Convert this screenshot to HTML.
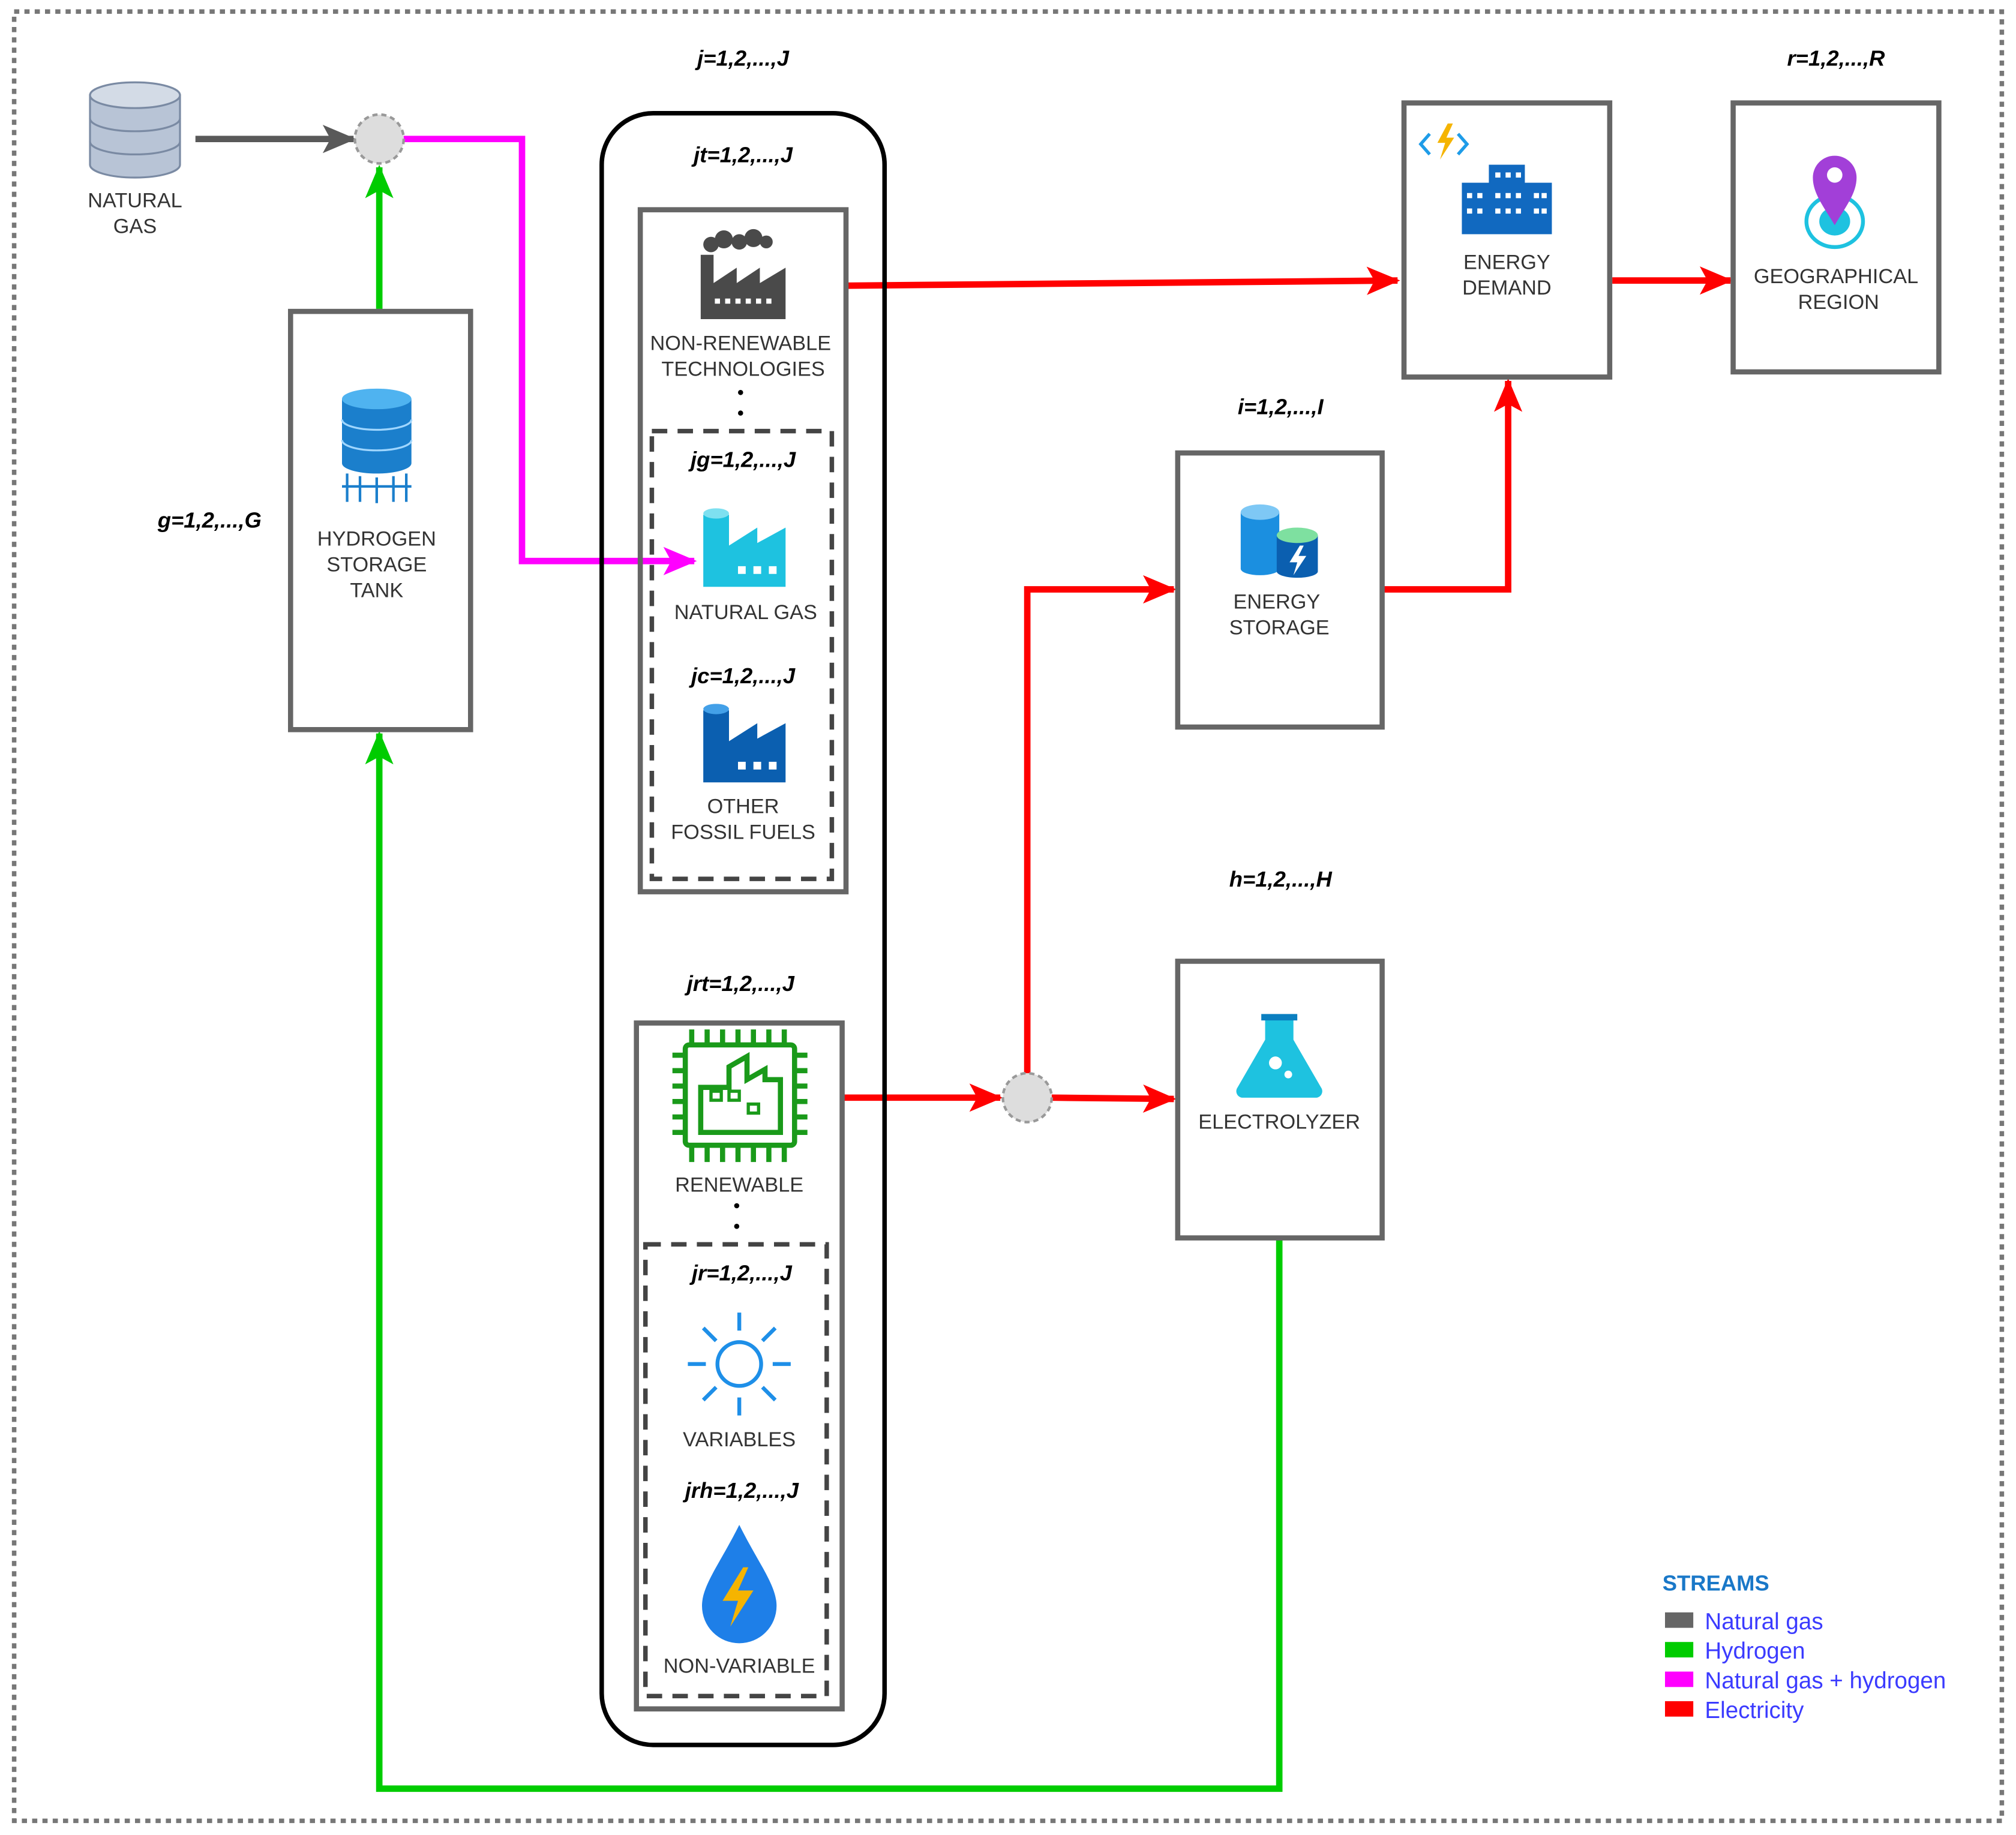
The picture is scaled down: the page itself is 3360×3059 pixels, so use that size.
<!DOCTYPE html>
<html><head><meta charset="utf-8"><style>
html,body{margin:0;padding:0;background:#fff;}
svg{display:block;}
text{font-family:"Liberation Sans",sans-serif;}
.lb{font-size:16px;fill:#333;text-anchor:middle;}
.ix{font-size:17px;font-weight:bold;font-style:italic;fill:#000;text-anchor:middle;}
.lg{font-size:18px;fill:#3b3bff;}
</style></head><body>
<svg width="3360" height="3059" viewBox="0 0 1568 1426" preserveAspectRatio="none" xmlns="http://www.w3.org/2000/svg">
<defs>
<marker id="ar" markerWidth="26" markerHeight="26" refX="24" refY="13" orient="auto" markerUnits="userSpaceOnUse"><path d="M0,2 L26,13 L0,24 L6,13z" fill="#f00"/></marker>
<marker id="agr" markerWidth="26" markerHeight="26" refX="24" refY="13" orient="auto" markerUnits="userSpaceOnUse"><path d="M0,2 L26,13 L0,24 L6,13z" fill="#00cc00"/></marker>
<marker id="am" markerWidth="26" markerHeight="26" refX="24" refY="13" orient="auto" markerUnits="userSpaceOnUse"><path d="M0,2 L26,13 L0,24 L6,13z" fill="#ff00ff"/></marker>
<marker id="agy" markerWidth="26" markerHeight="26" refX="24" refY="13" orient="auto" markerUnits="userSpaceOnUse"><path d="M0,2 L26,13 L0,24 L6,13z" fill="#595959"/></marker>
</defs>
<rect x="11" y="9" width="1546" height="1406" fill="none" stroke="#777" stroke-width="3.5" stroke-dasharray="4,4"/>

<g fill="#b8c4d6" stroke="#7a8aa3" stroke-width="1.5">
<path d="M70,74 v54 a35,10 0 0 0 70,0 v-54z"/>
<ellipse cx="105" cy="74" rx="35" ry="10" fill="#d3dbe6"/>
<path d="M70,92 a35,10 0 0 0 70,0 M70,110 a35,10 0 0 0 70,0" fill="none"/>
</g>
<text class="lb" x="105" y="161">NATURAL</text><text class="lb" x="105" y="181">GAS</text>

<line x1="152" y1="108" x2="275" y2="108" stroke="#595959" stroke-width="5" marker-end="url(#agy)"/>
<polyline points="314,108 406,108 406,436 540,436" fill="none" stroke="#ff00ff" stroke-width="5" marker-end="url(#am)"/>
<line x1="295" y1="240" x2="295" y2="130" stroke="#00cc00" stroke-width="5" marker-end="url(#agr)"/>
<polyline points="995,962 995,1390 295,1390 295,570" fill="none" stroke="#00cc00" stroke-width="5" marker-end="url(#agr)"/>
<line x1="658" y1="222" x2="1087" y2="218" stroke="#f00" stroke-width="5" marker-end="url(#ar)"/>
<line x1="1254" y1="218" x2="1346" y2="218" stroke="#f00" stroke-width="5" marker-end="url(#ar)"/>
<polyline points="1075,458 1173,458 1173,296" fill="none" stroke="#f00" stroke-width="5" marker-end="url(#ar)"/>
<line x1="656" y1="853" x2="778" y2="853" stroke="#f00" stroke-width="5" marker-end="url(#ar)"/>
<line x1="818" y1="853" x2="913" y2="854" stroke="#f00" stroke-width="5" marker-end="url(#ar)"/>
<polyline points="799,834 799,458 913,458" fill="none" stroke="#f00" stroke-width="5" marker-end="url(#ar)"/>

<circle cx="295" cy="108" r="19" fill="#ddd" stroke="#999" stroke-width="2" stroke-dasharray="4,3"/>
<circle cx="799" cy="853" r="19" fill="#ddd" stroke="#999" stroke-width="2" stroke-dasharray="4,3"/>

<rect x="226" y="242" width="140" height="325" fill="#fff" stroke="#666" stroke-width="4"/>
<g>
<path d="M266,310 v50 a27,8 0 0 0 54,0 v-50z" fill="#1b7fcc"/>
<ellipse cx="293" cy="310" rx="27" ry="8" fill="#4fb3f0"/>
<path d="M266,326 a27,8 0 0 0 54,0 M266,342 a27,8 0 0 0 54,0" fill="none" stroke="#9fd6ff" stroke-width="1.5"/>
<path d="M270,368 v22 M280,370 v20 M293,371 v20 M306,370 v20 M316,368 v22 M266,378 h54" stroke="#1b7fcc" stroke-width="2"/>
</g>
<text class="lb" x="293" y="424">HYDROGEN</text><text class="lb" x="293" y="444">STORAGE</text><text class="lb" x="293" y="464">TANK</text>
<text class="ix" x="163" y="410">g=1,2,...,G</text>

<rect x="468" y="88" width="220" height="1268" rx="40" fill="none" stroke="#000" stroke-width="3.5"/>
<text class="ix" x="578" y="51">j=1,2,...,J</text>
<text class="ix" x="578" y="126">jt=1,2,...,J</text>

<rect x="498" y="163" width="160" height="530" fill="none" stroke="#666" stroke-width="4"/>
<g fill="#4a4a4a">
<path d="M545,248 v-50 h10 v22 l18,-12 v12 l18,-12 v12 l20,-12 v40z"/>
<circle cx="553" cy="190" r="6"/><circle cx="563" cy="186" r="7"/><circle cx="575" cy="188" r="6"/><circle cx="586" cy="185" r="7"/><circle cx="596" cy="188" r="5"/>
</g>
<g fill="#fff"><rect x="556" y="232" width="4" height="4"/><rect x="564" y="232" width="4" height="4"/><rect x="572" y="232" width="4" height="4"/><rect x="580" y="232" width="4" height="4"/><rect x="588" y="232" width="4" height="4"/><rect x="596" y="232" width="4" height="4"/></g>
<text class="lb" x="576" y="272">NON-RENEWABLE</text><text class="lb" x="578" y="292">TECHNOLOGIES</text>
<circle cx="576" cy="305" r="2" fill="#000"/><circle cx="576" cy="321" r="2" fill="#000"/>

<rect x="507" y="335" width="140" height="348" fill="none" stroke="#444" stroke-width="3.5" stroke-dasharray="12,8"/>
<text class="ix" x="578" y="363">jg=1,2,...,J</text>
<g fill="#1ec2e0"><path d="M547,400 h20 v24 l22,-14 v12 l22,-12 v46 h-64z"/><ellipse cx="557" cy="399" rx="10" ry="4" fill="#7ee0f0"/></g>
<g fill="#fff"><rect x="574" y="440" width="6" height="6"/><rect x="586" y="440" width="6" height="6"/><rect x="598" y="440" width="6" height="6"/></g>
<text class="lb" x="580" y="481">NATURAL GAS</text>
<text class="ix" x="578" y="531">jc=1,2,...,J</text>
<g fill="#0b5fb0"><path d="M547,552 h20 v24 l22,-14 v12 l22,-12 v46 h-64z"/><ellipse cx="557" cy="551" rx="10" ry="4" fill="#43a0e8"/></g>
<g fill="#fff"><rect x="574" y="592" width="6" height="6"/><rect x="586" y="592" width="6" height="6"/><rect x="598" y="592" width="6" height="6"/></g>
<text class="lb" x="578" y="632">OTHER</text><text class="lb" x="578" y="652">FOSSIL FUELS</text>

<text class="ix" x="576" y="770">jrt=1,2,...,J</text>
<rect x="495" y="795" width="160" height="533" fill="none" stroke="#666" stroke-width="4"/>
<g stroke="#1a9a1a" stroke-width="4" fill="none">
<rect x="533" y="812" width="85" height="78" rx="3"/>
<path d="M545,880 v-35 h22 v-16 l14,-8 v18 l14,-8 v8 h12 v41z"/>
<path d="M538,800 v12 M550,800 v12 M562,800 v12 M574,800 v12 M586,800 v12 M598,800 v12 M610,800 v12 M538,890 v13 M550,890 v13 M562,890 v13 M574,890 v13 M586,890 v13 M598,890 v13 M610,890 v13 M523,820 h10 M523,832 h10 M523,844 h10 M523,856 h10 M523,868 h10 M523,880 h10 M618,820 h10 M618,832 h10 M618,844 h10 M618,856 h10 M618,868 h10 M618,880 h10"/>
<rect x="553" y="848" width="8" height="7" stroke-width="2.5"/><rect x="567" y="848" width="8" height="7" stroke-width="2.5"/><rect x="582" y="858" width="8" height="7" stroke-width="2.5"/>
</g>
<text class="lb" x="575" y="926">RENEWABLE</text>
<circle cx="573" cy="937" r="2" fill="#000"/><circle cx="573" cy="953" r="2" fill="#000"/>
<rect x="502" y="967" width="141" height="351" fill="none" stroke="#444" stroke-width="3.5" stroke-dasharray="12,8"/>
<text class="ix" x="577" y="995">jr=1,2,...,J</text>
<g stroke="#1e8fe8" stroke-width="3" fill="none"><circle cx="575" cy="1060" r="17"/>
<path d="M575,1020 v14 M575,1086 v14 M535,1060 h14 M601,1060 h14 M547,1032 l10,10 M593,1078 l10,10 M603,1032 l-10,10 M557,1078 l-10,10"/></g>
<text class="lb" x="575" y="1124">VARIABLES</text>
<text class="ix" x="577" y="1164">jrh=1,2,...,J</text>
<path d="M575,1185 C560,1215 546,1232 546,1248 a29,29 0 0 0 58,0 C604,1232 590,1215 575,1185z" fill="#1e7fe8"/>
<path d="M578,1218 l-16,26 h12 l-6,20 l18,-28 h-12 l8,-18z" fill="#f5b400"/>
<text class="lb" x="575" y="1300">NON-VARIABLE</text>

<rect x="1092" y="80" width="160" height="213" fill="#fff" stroke="#666" stroke-width="4"/>
<path d="M1112,104 l-7,8 l7,8 M1134,104 l7,8 l-7,8" stroke="#1e9ce8" stroke-width="2.5" fill="none"/>
<path d="M1126,96 l-8,15 h6 l-4,13 l11,-17 h-6 l5,-11z" fill="#f5b400"/>
<g fill="#1169c0"><rect x="1137" y="142" width="70" height="40"/><rect x="1158" y="128" width="28" height="20"/></g>
<g fill="#fff"><rect x="1141" y="150" width="4" height="4"/><rect x="1149" y="150" width="4" height="4"/><rect x="1163" y="134" width="4" height="4"/><rect x="1171" y="134" width="4" height="4"/><rect x="1179" y="134" width="4" height="4"/><rect x="1163" y="150" width="4" height="4"/><rect x="1171" y="150" width="4" height="4"/><rect x="1179" y="150" width="4" height="4"/><rect x="1193" y="150" width="4" height="4"/><rect x="1199" y="150" width="4" height="4"/><rect x="1141" y="162" width="4" height="4"/><rect x="1149" y="162" width="4" height="4"/><rect x="1163" y="162" width="4" height="4"/><rect x="1171" y="162" width="4" height="4"/><rect x="1179" y="162" width="4" height="4"/><rect x="1193" y="162" width="4" height="4"/><rect x="1199" y="162" width="4" height="4"/></g>
<text class="lb" x="1172" y="209">ENERGY</text><text class="lb" x="1172" y="229">DEMAND</text>

<text class="ix" x="1428" y="51">r=1,2,...,R</text>
<rect x="1348" y="80" width="160" height="209" fill="#fff" stroke="#666" stroke-width="4"/>
<ellipse cx="1427" cy="172" rx="22" ry="20" fill="none" stroke="#1ec2e0" stroke-width="3"/>
<ellipse cx="1427" cy="172" rx="12" ry="11" fill="#1ec2e0"/>
<path d="M1427,175 C1418,160 1410,150 1410,138 a17,17 0 0 1 34,0 C1444,150 1436,160 1427,175z" fill="#a23fd8"/>
<circle cx="1427" cy="136" r="6" fill="#fff"/>
<text class="lb" x="1428" y="220">GEOGRAPHICAL</text><text class="lb" x="1430" y="240">REGION</text>

<text class="ix" x="996" y="322">i=1,2,...,I</text>
<rect x="916" y="352" width="159" height="213" fill="#fff" stroke="#666" stroke-width="4"/>
<path d="M965,398 v44 a15,5 0 0 0 30,0 v-44z" fill="#1b8fe0"/><ellipse cx="980" cy="398" rx="15" ry="6" fill="#7ec8f5"/>
<path d="M993,416 v28 a16,5 0 0 0 32,0 v-28z" fill="#0b5fb0"/><ellipse cx="1009" cy="416" rx="16" ry="6" fill="#7ee0a0"/>
<path d="M1011,424 l-8,13 h6 l-3,10 l10,-15 h-6 l4,-8z" fill="#fff"/>
<text class="lb" x="993" y="473">ENERGY</text><text class="lb" x="995" y="493">STORAGE</text>

<text class="ix" x="996" y="689">h=1,2,...,H</text>
<rect x="916" y="747" width="159" height="215" fill="#fff" stroke="#666" stroke-width="4"/>
<path d="M984,790 h22 v18 l22,38 a5,5 0 0 1 -4,7 h-58 a5,5 0 0 1 -4,-7 l22,-38z" fill="#1ec2e0"/>
<rect x="981" y="788" width="28" height="5" fill="#0b7fc0"/>
<circle cx="992" cy="826" r="5" fill="#fff"/><circle cx="1002" cy="835" r="3" fill="#fff"/>
<text class="lb" x="995" y="877">ELECTROLYZER</text>

<text x="1293" y="1236" style="font-size:17px;font-weight:bold;fill:#1a78c8;">STREAMS</text>
<rect x="1295" y="1253" width="22" height="12" fill="#666"/><text class="lg" x="1326" y="1266">Natural gas</text>
<rect x="1295" y="1276" width="22" height="12" fill="#00cc00"/><text class="lg" x="1326" y="1289">Hydrogen</text>
<rect x="1295" y="1299" width="22" height="12" fill="#ff00ff"/><text class="lg" x="1326" y="1312">Natural gas + hydrogen</text>
<rect x="1295" y="1322" width="22" height="12" fill="#f00"/><text class="lg" x="1326" y="1335">Electricity</text>
</svg>
</body></html>
